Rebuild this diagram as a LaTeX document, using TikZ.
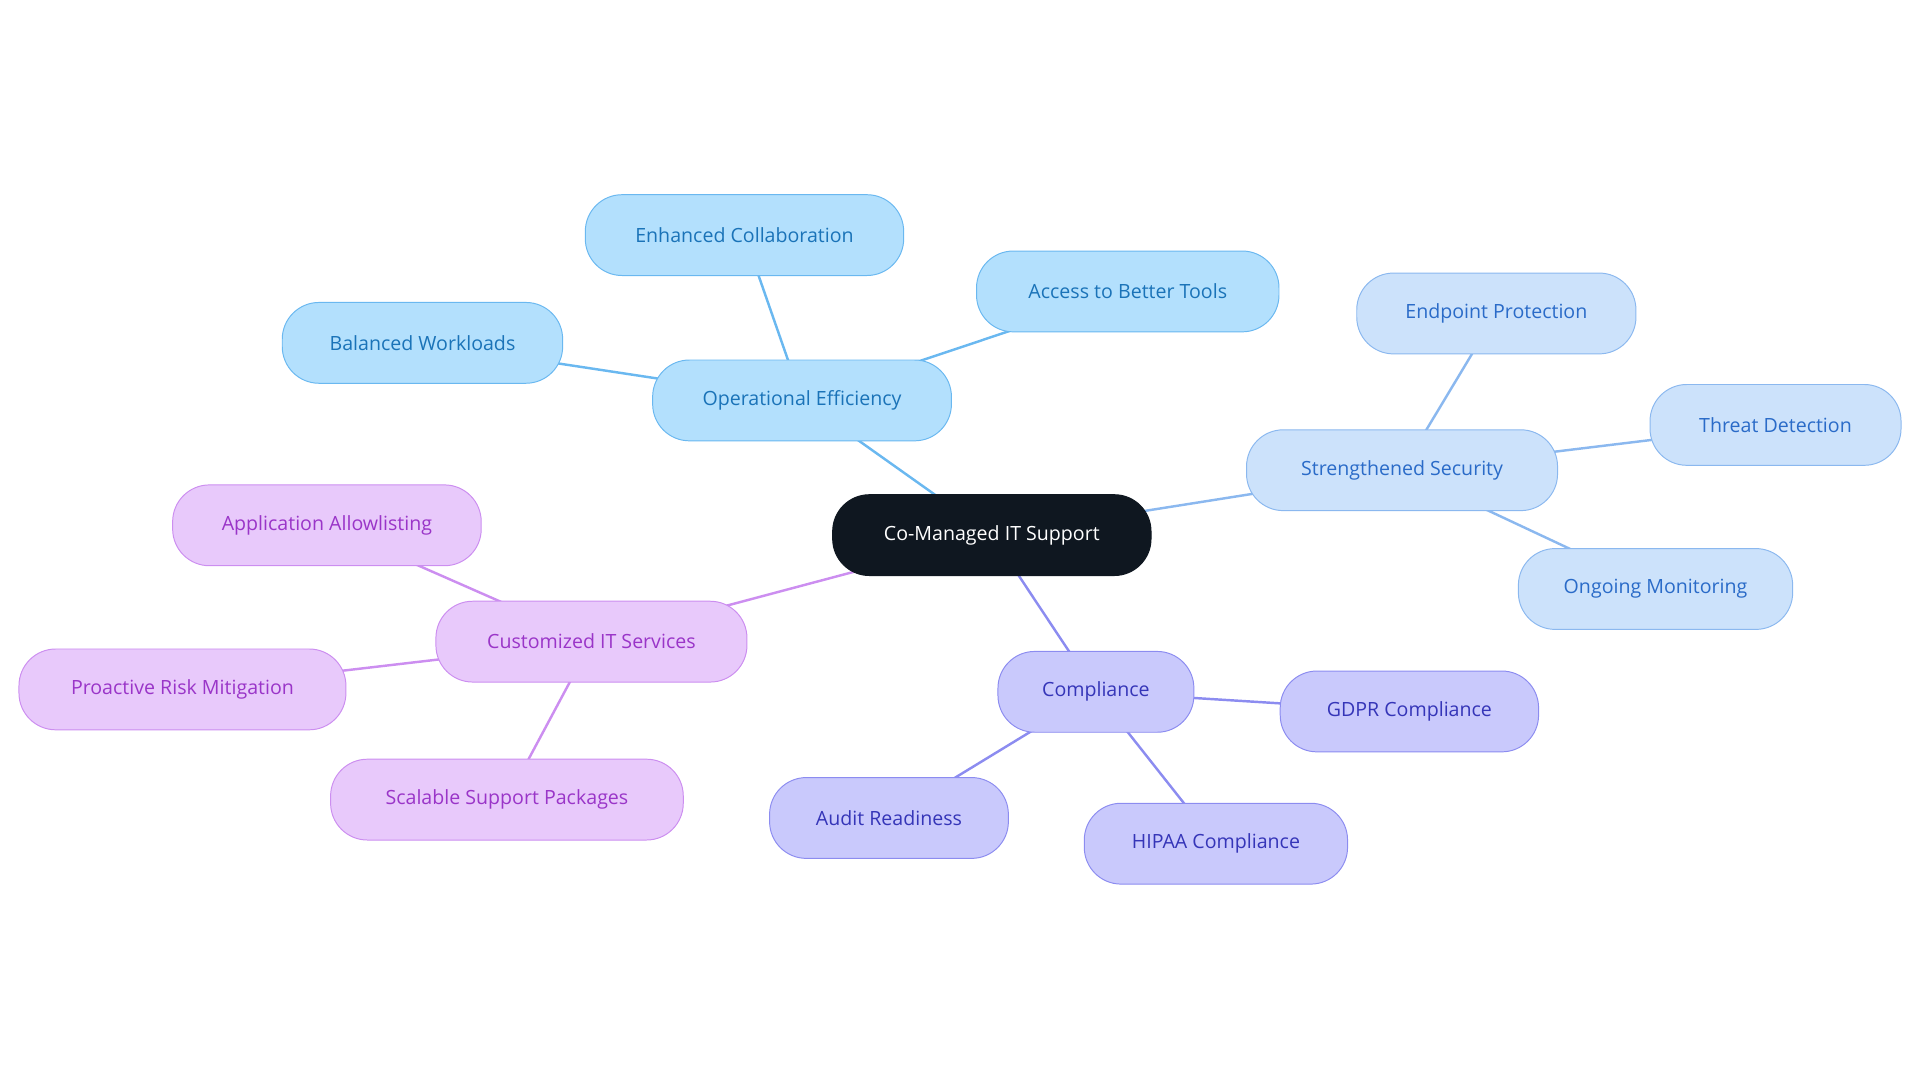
\documentclass[tikz,border=0pt]{standalone}
\usepackage{fontspec}
\setmainfont{Open Sans}
\definecolor{bF}{HTML}{B3E0FD}\definecolor{bD}{HTML}{6AB8F0}\definecolor{bT}{HTML}{1A73B8}
\definecolor{sF}{HTML}{CCE2FB}\definecolor{sD}{HTML}{8BB8EF}\definecolor{sT}{HTML}{2A6BC8}
\definecolor{cF}{HTML}{C9C9FC}\definecolor{cD}{HTML}{8C8CF0}\definecolor{cT}{HTML}{3535B8}
\definecolor{pF}{HTML}{E8C9FB}\definecolor{pD}{HTML}{CC8EF0}\definecolor{pT}{HTML}{9A35C8}
\definecolor{root}{HTML}{0F1720}
\begin{document}
\begin{tikzpicture}[x=1pt,y=-1pt,
 box/.style={rounded corners=30pt,minimum height=66pt,font=\fontsize{16}{18}\selectfont,line width=0.8pt},
 bb/.style={box,fill=bF,draw=bD,text=bT},
 sb/.style={box,fill=sF,draw=sD,text=sT},
 cb/.style={box,fill=cF,draw=cD,text=cT},
 pb/.style={box,fill=pF,draw=pD,text=pT},
 e/.style={line width=2pt}]
\useasboundingbox (0,0) rectangle (1568,884);
\draw[e,draw=bD] (810,437)--(655,327);
\draw[e,draw=bD] (655,327)--(608,192);
\draw[e,draw=bD] (655,327)--(921,238);
\draw[e,draw=bD] (655,327)--(345,280);
\draw[e,draw=sD] (810,437)--(1145,384);
\draw[e,draw=sD] (1145,384)--(1222,256);
\draw[e,draw=sD] (1145,384)--(1450,347);
\draw[e,draw=sD] (1145,384)--(1352,481);
\draw[e,draw=cD] (810,437)--(895,565);
\draw[e,draw=cD] (895,565)--(1151,581);
\draw[e,draw=cD] (895,565)--(726,668);
\draw[e,draw=cD] (895,565)--(993,689);
\draw[e,draw=pD] (810,437)--(483,524);
\draw[e,draw=pD] (483,524)--(267,429);
\draw[e,draw=pD] (483,524)--(149,563);
\draw[e,draw=pD] (483,524)--(414,653);
\node[box,fill=root,draw=root,text=white,minimum width=260pt] (r) at (810,437) {Co-Managed IT Support};
\node[bb,minimum width=244pt] (oe) at (655,327) {Operational Efficiency};
\node[bb,minimum width=260pt] (ec) at (608,192) {Enhanced Collaboration};
\node[bb,minimum width=247pt] (ab) at (921,238) {Access to Better Tools};
\node[bb,minimum width=229pt] (bw) at (345,280) {Balanced Workloads};
\node[sb,minimum width=254pt] (ss) at (1145,384) {Strengthened Security};
\node[sb,minimum width=228pt] (ep) at (1222,256) {Endpoint Protection};
\node[sb,minimum width=205pt] (td) at (1450,347) {Threat Detection};
\node[sb,minimum width=224pt] (om) at (1352,481) {Ongoing Monitoring};
\node[cb,minimum width=160pt] (co) at (895,565) {Compliance};
\node[cb,minimum width=211pt] (gd) at (1151,581) {GDPR Compliance};
\node[cb,minimum width=195pt] (ar) at (726,668) {Audit Readiness};
\node[cb,minimum width=215pt] (hi) at (993,689) {HIPAA Compliance};
\node[pb,minimum width=254pt] (cu) at (483,524) {Customized IT Services};
\node[pb,minimum width=252pt] (aa) at (267,429) {Application Allowlisting};
\node[pb,minimum width=267pt] (pr) at (149,563) {Proactive Risk Mitigation};
\node[pb,minimum width=288pt] (sc) at (414,653) {Scalable Support Packages};
\end{tikzpicture}
\end{document}
